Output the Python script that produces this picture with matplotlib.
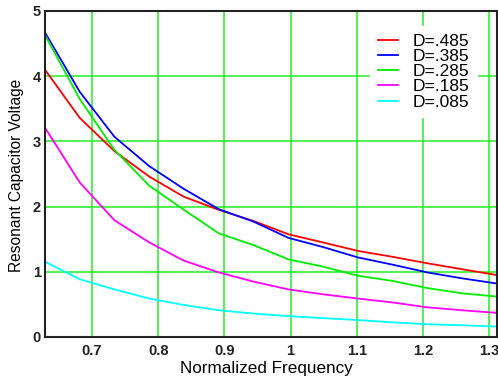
import numpy as np
from matplotlib import pyplot as plt

plt.rcParams['font.family'] = ['Liberation Sans', 'DejaVu Sans']

# normalized frequency sample points
freq = [0.629, 0.6815, 0.734, 0.7866, 0.839, 0.8917, 0.944, 0.997,
        1.049, 1.102, 1.154, 1.207, 1.259, 1.312]

d485 = [4.10, 3.36, 2.85, 2.46, 2.15, 1.95, 1.78, 1.575, 1.45, 1.32, 1.23, 1.13, 1.04, 0.95]
d385 = [4.67, 3.76, 3.07, 2.62, 2.27, 1.96, 1.77, 1.52, 1.38, 1.22, 1.11, 0.99, 0.90, 0.82]
d285 = [4.63, 3.65, 2.87, 2.32, 1.95, 1.59, 1.41, 1.19, 1.08, 0.94, 0.86, 0.75, 0.67, 0.62]
d185 = [3.21, 2.37, 1.79, 1.45, 1.17, 0.99, 0.85, 0.73, 0.655, 0.59, 0.53, 0.455, 0.41, 0.37]
d085 = [1.155, 0.885, 0.73, 0.59, 0.49, 0.41, 0.36, 0.32, 0.29, 0.26, 0.225, 0.195, 0.18, 0.16]

labels = ["D=.485", "D=.385", "D=.285", "D=.185", "D=.085"]
farben = ["#ff0000", "#0000ff", "#00ee00", "#ff00ff", "#00ffff"]

xticks = [0.7, 0.8, 0.9, 1.0, 1.1, 1.2, 1.3]
xticklabels = ["0.7", "0.8", "0.9", "1", "1.1", "1.2", "1.3"]
yticks = [0, 1, 2, 3, 4, 5]

fig = plt.figure(figsize=(4.98, 3.77), dpi=100)
ax = fig.add_axes([45/498, 40/377, 452/498, 326/377])

for serie, lab, c in zip([d485, d385, d285, d185, d085], labels, farben):
    ax.plot(freq, serie, color=c, lw=1.3, label=lab)

ax.set_xlim(0.629, 1.312)
ax.set_ylim(0, 5)
ax.set_xticks(xticks)
ax.set_xticklabels(xticklabels)
ax.set_yticks(yticks)
ax.grid(color="#22ee22", lw=1.1)
ax.set_axisbelow(True)
ax.tick_params(length=0, labelsize=10.5, pad=5)
ax.tick_params(axis='y', pad=3)
for t in ax.get_xticklabels() + ax.get_yticklabels():
    t.set_fontweight("bold")
    t.set_color("#222222")
for s in ax.spines.values():
    s.set_color("#222222")
    s.set_linewidth(1.5)

ax.set_xlabel("Normalized Frequency", fontsize=12.3, labelpad=3)
ax.xaxis.set_label_coords(0.489, -0.075)
ax.set_ylabel("Resonant Capacitor Voltage", fontsize=11.2)
ax.yaxis.set_label_coords(-0.047, 0.495)

leg = ax.legend(loc="upper left", bbox_to_anchor=(370/498, 1 - 26/377),
                bbox_transform=fig.transFigure, fontsize=12.5, frameon=True,
                fancybox=False, framealpha=1, edgecolor="white",
                handlelength=1.15, handletextpad=0.85, labelspacing=0.0,
                borderpad=0.45, borderaxespad=0)

fig.savefig("out.png", dpi=100)
